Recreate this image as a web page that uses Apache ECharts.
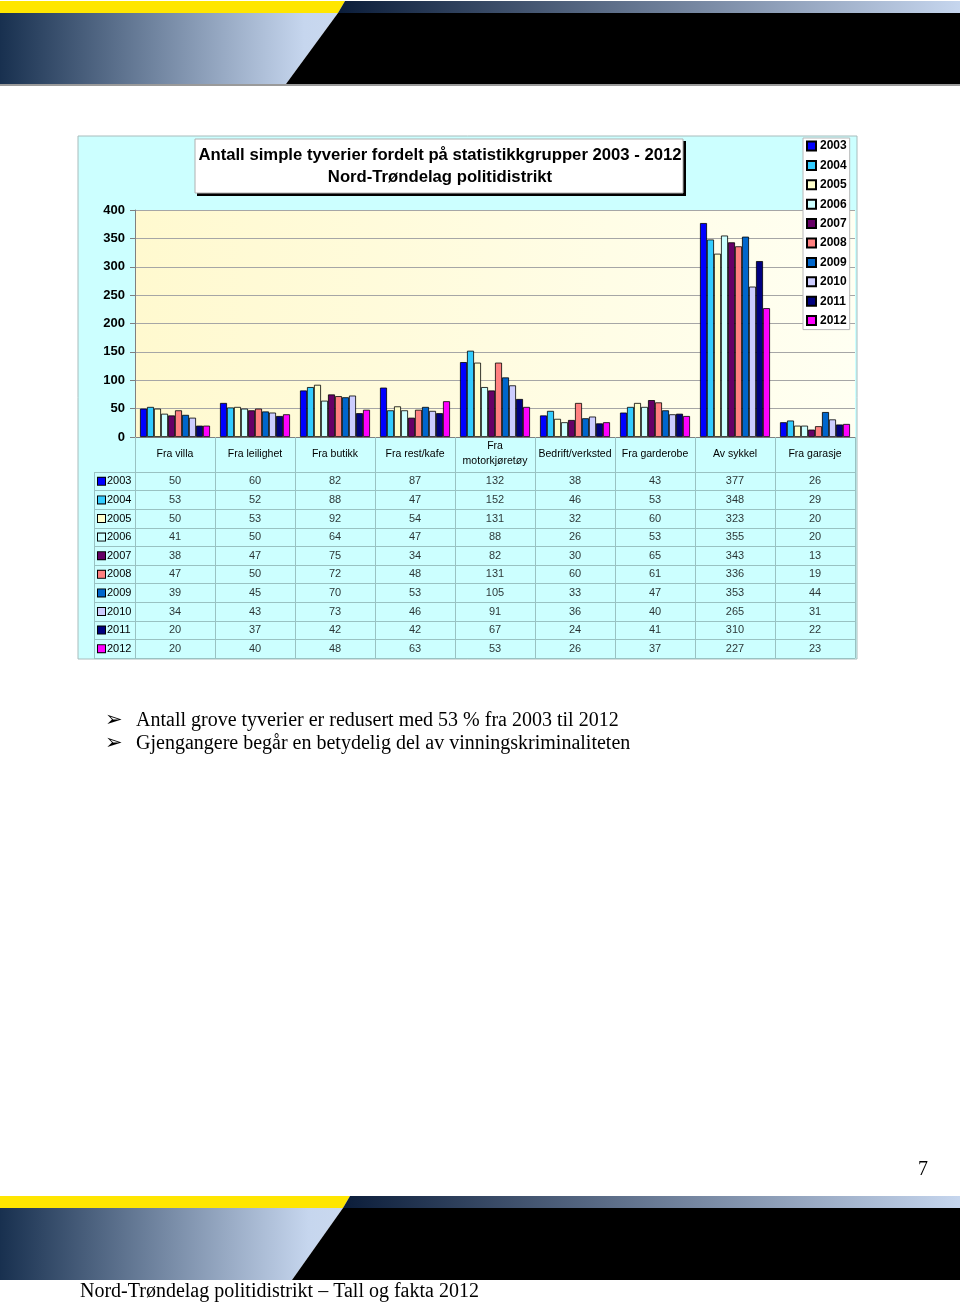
<!DOCTYPE html>
<html><head><meta charset="utf-8">
<script src="https://cdn.jsdelivr.net/npm/echarts@6/dist/echarts.min.js"></script>
<style>html,body{margin:0;padding:0;background:#fff}#c{width:960px;height:1304px}</style>
</head><body><div id="c"></div>
<script>
// ---------- data ----------
const categories = ['Fra villa','Fra leilighet','Fra butikk','Fra rest/kafe','Fra\nmotorkjøretøy','Bedrift/verksted','Fra garderobe','Av sykkel','Fra garasje'];
const years = ['2003','2004','2005','2006','2007','2008','2009','2010','2011','2012'];
const v2003 = [50,60,82,87,132,38,43,377,26];
const v2004 = [53,52,88,47,152,46,53,348,29];
const v2005 = [50,53,92,54,131,32,60,323,20];
const v2006 = [41,50,64,47,88,26,53,355,20];
const v2007 = [38,47,75,34,82,30,65,343,13];
const v2008 = [47,50,72,48,131,60,61,336,19];
const v2009 = [39,45,70,53,105,33,47,353,44];
const v2010 = [34,43,73,46,91,36,40,265,31];
const v2011 = [20,37,42,42,67,24,41,310,22];
const v2012 = [20,40,48,63,53,26,37,227,23];
const yMin = 0, yMax = 400, yStep = 50;
const chartTitle = 'Antall simple tyverier fordelt på statistikkgrupper 2003 - 2012\nNord-Trøndelag politidistrikt';
const bullets = ['Antall grove tyverier er redusert med 53 % fra 2003 til 2012','Gjengangere begår en betydelig del av vinningskriminaliteten'];
const footerText = 'Nord-Trøndelag politidistrikt – Tall og fakta 2012';
const pageNumber = '7';

// ---------- styles ----------
const seriesValues = [v2003,v2004,v2005,v2006,v2007,v2008,v2009,v2010,v2011,v2012];
const colors = ['#0000FF','#33CCFF','#FFFFCC','#CCFFFF','#660066','#FF8080','#0066CC','#CCCCFF','#000080','#FF00FF'];
const tableLine = '#99c2c2';
const sans = 'Arial, "Liberation Sans", sans-serif';
const serif = '"Times New Roman", "Liberation Serif", serif';

const chart = echarts.init(document.getElementById('c'), null, {renderer:'canvas'});

const barSeries = years.map((y,i)=>({
  name:y, type:'bar', xAxisIndex:0, yAxisIndex:0,
  data: seriesValues[i],
  barGap:'0%', barCategoryGap:'12.5%',
  itemStyle:{color:colors[i], borderColor:'#000', borderWidth:0.8},
  emphasis:{disabled:true}
}));

const tableData = [];
seriesValues.forEach((arr,yi)=>arr.forEach((v,ci)=>tableData.push([ci,yi,v])));

const rich = {t:{fontSize:11, color:'#000', fontFamily:sans, padding:[0,0,0,2]}};
colors.forEach((c,i)=>{ rich['s'+i] = {width:7, height:7, backgroundColor:c, borderColor:'#000', borderWidth:1}; });

const navyGrad = () => new echarts.graphic.LinearGradient(0,0,1,0,[{offset:0,color:'#0b1d3a'},{offset:1,color:'#c6d6ee'}]);
const leftGrad = () => new echarts.graphic.LinearGradient(0,0,1,0,[{offset:0,color:'#18304f'},{offset:0.9,color:'#c6d6ee'},{offset:1,color:'#cad9ef'}]);

const graphics = [
  // header
  {type:'polygon', z:-5, shape:{points:[[0,1],[345,1],[338,13],[0,13]]}, style:{fill:'#ffe600'}},
  {type:'polygon', z:-5, shape:{points:[[345,1],[960,1],[960,13],[338,13]]}, style:{fill:navyGrad()}},
  {type:'polygon', z:-5, shape:{points:[[0,13],[338,13],[286,84],[0,84]]}, style:{fill:leftGrad()}},
  {type:'polygon', z:-5, shape:{points:[[338,13],[960,13],[960,84],[286,84]]}, style:{fill:'#000'}},
  {type:'rect', z:-5, shape:{x:0,y:84,width:960,height:2}, style:{fill:'#9a9a9a'}},
  // footer
  {type:'polygon', z:-5, shape:{points:[[0,1196],[350,1196],[343,1208],[0,1208]]}, style:{fill:'#ffe600'}},
  {type:'polygon', z:-5, shape:{points:[[350,1196],[960,1196],[960,1208],[343,1208]]}, style:{fill:navyGrad()}},
  {type:'polygon', z:-5, shape:{points:[[0,1208],[343,1208],[292,1280],[0,1280]]}, style:{fill:leftGrad()}},
  {type:'polygon', z:-5, shape:{points:[[343,1208],[960,1208],[960,1280],[292,1280]]}, style:{fill:'#000'}},
  {type:'text', z:5, style:{text:footerText, x:80, y:1292, font:'20px '+serif, fill:'#000', verticalAlign:'middle'}},
  {type:'text', z:5, style:{text:pageNumber, x:918, y:1170, font:'20px '+serif, fill:'#000', verticalAlign:'middle'}},
  // chart background
  {type:'rect', z:-10, shape:{x:78,y:136,width:779,height:523}, style:{fill:'#ccffff', stroke:'#a9bcbc', lineWidth:1}},
  // title box
  {type:'rect', z:-4, shape:{x:197,y:141,width:489,height:55}, style:{fill:'#000'}},
  {type:'rect', z:-3, shape:{x:195,y:139,width:488,height:54}, style:{fill:'#fff', stroke:'#b0b0b0', lineWidth:1}},
  // table left border
  {type:'line', z:5, shape:{x1:94.5,y1:472,x2:94.5,y2:658}, style:{stroke:tableLine, lineWidth:1}},
  // bullets
  {type:'text', z:5, style:{text:'➢', x:105, y:721, font:'bold 21px "DejaVu Sans", sans-serif', fill:'#000', verticalAlign:'middle'}},
  {type:'text', z:5, style:{text:'➢', x:105, y:744, font:'bold 21px "DejaVu Sans", sans-serif', fill:'#000', verticalAlign:'middle'}},
  {type:'text', z:5, style:{text:bullets[0], x:136, y:721, font:'20px '+serif, fill:'#000', verticalAlign:'middle'}},
  {type:'text', z:5, style:{text:bullets[1], x:136, y:744, font:'20px '+serif, fill:'#000', verticalAlign:'middle'}}
];

const option = {
  animation:false,
  backgroundColor:'#fff',
  title:{text:chartTitle, left:440, top:144, textAlign:'center', padding:0,
    textStyle:{fontFamily:sans, fontSize:16.7, fontWeight:'bold', color:'#000', lineHeight:22}},
  legend:{data:years, orient:'vertical', left:803, top:138, padding:[2,3,3,3], icon:'rect',
    itemWidth:9, itemHeight:9, itemGap:7.4, backgroundColor:'#fff', borderColor:'#b8b8b8', borderWidth:1,
    textStyle:{fontFamily:sans, fontSize:12, fontWeight:'bold', color:'#000', lineHeight:12, padding:[0,0,0,-1]},
    selectedMode:false},
  grid:[
    {left:135, top:210, width:720, height:227, show:true, borderWidth:0,
      backgroundColor:new echarts.graphic.LinearGradient(0,0,1,0,[{offset:0,color:'#fff9cf'},{offset:1,color:'#fffff2'}])},
    {left:135, top:472, width:720, height:186, show:false}
  ],
  xAxis:[
    {type:'category', gridIndex:0, data:categories,
      axisLine:{lineStyle:{color:'#808080'}},
      axisTick:{show:true, length:35, interval:0, lineStyle:{color:tableLine}},
      axisLabel:{interval:0, margin:17, verticalAlign:'middle', fontFamily:sans, fontSize:10.5, color:'#000', lineHeight:15},
      splitLine:{show:false}},
    {type:'category', gridIndex:1, data:categories,
      axisLine:{show:false}, axisTick:{show:false}, axisLabel:{show:false},
      splitLine:{show:true, interval:0, lineStyle:{color:tableLine, width:1}}}
  ],
  yAxis:[
    {type:'value', gridIndex:0, min:yMin, max:yMax, interval:yStep,
      axisLine:{show:true, lineStyle:{color:'#808080'}},
      axisTick:{show:true, length:5, lineStyle:{color:'#808080'}},
      axisLabel:{margin:10, fontFamily:sans, fontSize:13, fontWeight:'bold', color:'#000'},
      splitLine:{lineStyle:{color:'#a6a6a6', width:1}}},
    {type:'category', gridIndex:1, data:years, inverse:true,
      axisLine:{show:true, lineStyle:{color:tableLine}},
      axisTick:{show:true, length:41, interval:0, lineStyle:{color:tableLine}},
      axisLabel:{interval:0, align:'left', margin:37, formatter:(v,i)=>'{s'+i+'|}{t|'+v+'}', rich:rich},
      splitLine:{show:true, interval:0, lineStyle:{color:tableLine, width:1}}}
  ],
  graphic:graphics,
  series:[...barSeries,
    {type:'scatter', xAxisIndex:1, yAxisIndex:1, data:tableData, symbolSize:1, silent:true,
      itemStyle:{color:'rgba(0,0,0,0)'},
      label:{show:true, position:'inside', formatter:p=>String(p.value[2]), fontFamily:sans, fontSize:11, color:'#000'}}
  ]
};
chart.setOption(option);
</script></body></html>
